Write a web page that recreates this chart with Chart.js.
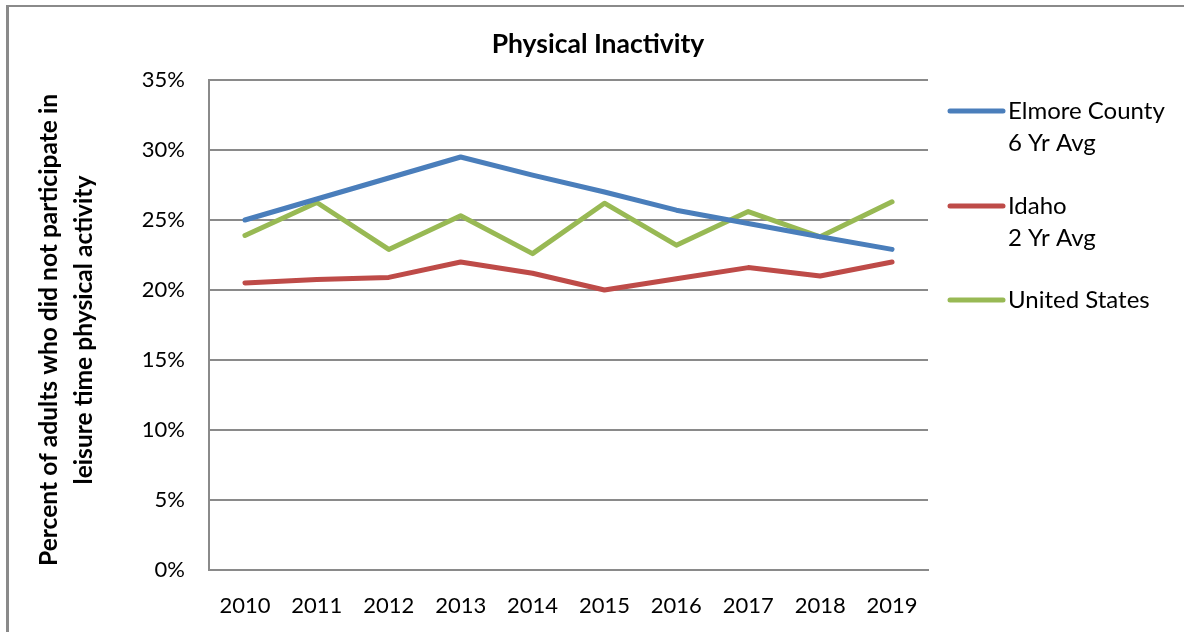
<!DOCTYPE html>
<html>
<head>
<meta charset="utf-8">
<script src="https://cdn.jsdelivr.net/npm/chart.js@4/dist/chart.umd.min.js"></script>
<style>
html,body{margin:0;padding:0;background:#fff;}
#wrap{position:relative;width:1184px;height:632px;}
canvas{display:block;}
</style>
</head>
<body>
<div id="wrap"><canvas id="c" width="1184" height="632"></canvas></div>
<script>
const categories = ['2010','2011','2012','2013','2014','2015','2016','2017','2018','2019'];
const elmore = [25.0, 26.5, 28.0, 29.5, 28.2, 27.0, 25.7, 24.75, 23.8, 22.9];
const idaho = [20.5, 20.75, 20.9, 22.0, 21.2, 20.0, 20.8, 21.6, 21.0, 22.0];
const unitedStates = [23.9, 26.25, 22.9, 25.3, 22.6, 26.2, 23.2, 25.6, 23.8, 26.3];
const seriesLabels = [['Elmore County','6 Yr Avg'], ['Idaho','2 Yr Avg'], ['United States']];
const yTicks = [0,5,10,15,20,25,30,35];
const chartTitle = 'Physical Inactivity';
const yTitle = ['Percent of adults who did not participate in','leisure time physical activity'];

const colors = ['#4A7EBB','#BE4B48','#98B954'];
const FONT = 'Lato, "Open Sans", sans-serif';

const framePlugin = {
  id:'frame',
  beforeDraw(chart){
    const ctx = chart.ctx;
    ctx.save();
    ctx.fillStyle='#fff';
    ctx.fillRect(0,0,chart.width,chart.height);
    ctx.fillStyle='#8a8a8a';
    ctx.fillRect(6,5,chart.width-6,2);
    ctx.fillRect(6,5,3,chart.height-5);
    ctx.restore();
  },
  afterDraw(chart){
    const ctx = chart.ctx;
    ctx.save();
    // chart title
    ctx.fillStyle='#000';
    ctx.font = 'bold 26.5px ' + FONT;
    ctx.textAlign='center';
    ctx.textBaseline='middle';
    ctx.fillText(chartTitle, 598, 44);
    // y axis title
    ctx.font = 'bold 24.6px ' + FONT;
    const cy = (chart.chartArea.top + chart.chartArea.bottom)/2 + 5;
    const xs = [49, 84];
    yTitle.forEach((t,i)=>{
      ctx.save();
      ctx.translate(xs[i], cy);
      ctx.rotate(-Math.PI/2);
      ctx.fillText(t,0,0);
      ctx.restore();
    });
    // legend
    const ys = [111, 206, 300];
    chart.data.datasets.forEach((ds,i)=>{
      const y = ys[i];
      ctx.strokeStyle = ds.borderColor;
      ctx.lineWidth = 5;
      ctx.lineCap = 'round';
      ctx.beginPath();
      ctx.moveTo(950,y);
      ctx.lineTo(1003,y);
      ctx.stroke();
      ctx.fillStyle='#000';
      ctx.font = '24px ' + FONT;
      ctx.textAlign='left';
      ctx.textBaseline='middle';
      seriesLabels[i].forEach((ln,j)=>{
        ctx.fillText(ln, 1008, y + j*32);
      });
    });
    ctx.restore();
  }
};

const mk = (label, data, color) => ({
  label: label, data: data, borderColor: color, backgroundColor: color,
  borderWidth: 5, pointRadius: 0, pointHoverRadius: 0, tension: 0,
  borderCapStyle: 'round', borderJoinStyle: 'round', fill: false
});

new Chart(document.getElementById('c'), {
  type: 'line',
  data: {
    labels: categories,
    datasets: [
      mk(seriesLabels[0].join(' '), elmore, colors[0]),
      mk(seriesLabels[1].join(' '), idaho, colors[1]),
      mk(seriesLabels[2].join(' '), unitedStates, colors[2])
    ]
  },
  options: {
    responsive: false,
    animation: false,
    devicePixelRatio: 1,
    layout: { padding: { top: 80, right: 256, bottom: 0, left: 0 } },
    plugins: {
      legend: { display: false },
      tooltip: { enabled: false },
      title: { display: false }
    },
    scales: {
      x: {
        offset: true,
        grid: { display: false, drawTicks: false },
        border: { display: true, color: '#8a8a8a', width: 2 },
        ticks: { color: '#000', font: { family: FONT, size: 22 }, padding: 23, maxRotation: 0 },
        afterFit(s){ s.height = 62; }
      },
      y: {
        min: 0, max: 35,
        afterBuildTicks(s){ s.ticks = yTicks.map(v=>({value:v})); },
        grid: { color: '#8a8a8a', lineWidth: 2, drawTicks: false },
        border: { display: true, color: '#8a8a8a', width: 2 },
        ticks: { color: '#000', font: { family: FONT, size: 22 }, padding: 24,
                 callback: v => v + '%' },
        afterFit(s){ s.width = 209; }
      }
    }
  },
  plugins: [framePlugin]
});
</script>
</body>
</html>
